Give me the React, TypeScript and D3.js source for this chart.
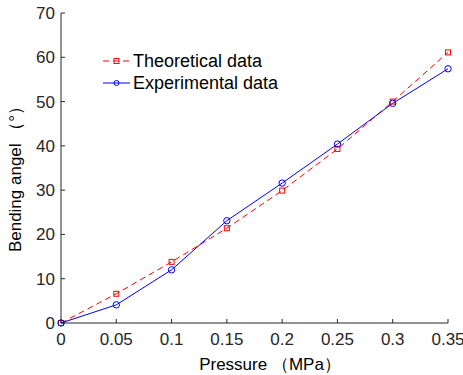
import React from 'react';
import * as d3 from 'd3';

const pressures = [0, 0.05, 0.1, 0.15, 0.2, 0.25, 0.3, 0.35];
const theoretical = [0, 6.6, 13.8, 21.4, 29.9, 39.3, 50.0, 61.1];
const experimental = [0, 4.1, 12.0, 23.1, 31.6, 40.4, 49.6, 57.4];
const xTicks = [0, 0.05, 0.1, 0.15, 0.2, 0.25, 0.3, 0.35];
const yTicks = [0, 10, 20, 30, 40, 50, 60, 70];

const W = 463;
const H = 375;
const margin = { top: 13, right: 15, bottom: 52, left: 61 };

const App: React.FC = () => {
  const x = d3.scaleLinear().domain([0, 0.35]).range([margin.left, W - margin.right]);
  const y = d3.scaleLinear().domain([0, 70]).range([H - margin.bottom, margin.top]);

  const line = d3.line<number>()
    .x((_, i) => x(pressures[i]))
    .y(d => y(d));

  const font = 'Arial, "Liberation Sans", sans-serif';
  const axisColor = '#262626';

  return (
    <svg width={W} height={H} style={{ position: 'absolute', left: 0, top: 0 }}>
      <rect width={W} height={H} fill="#fff" />
      {/* lines */}
      <path d={line(theoretical) ?? ''} fill="none" stroke="#ff0000" strokeWidth={1} strokeDasharray="6,4" />
      <path d={line(experimental) ?? ''} fill="none" stroke="#0000ff" strokeWidth={1} />
      {theoretical.map((v, i) => (
        <rect key={'t' + i} x={x(pressures[i]) - 2.5} y={y(v) - 2.5} width={5} height={5}
          fill="none" stroke="#ff0000" strokeWidth={1} />
      ))}
      {experimental.map((v, i) => (
        <circle key={'e' + i} cx={x(pressures[i])} cy={y(v)} r={3.2}
          fill="none" stroke="#0000ff" strokeWidth={1} />
      ))}

      {/* axes */}
      <line x1={x(0)} x2={x(0.35)} y1={y(0)} y2={y(0)} stroke={axisColor} strokeWidth={1} />
      <line x1={x(0)} x2={x(0)} y1={y(0)} y2={y(70)} stroke={axisColor} strokeWidth={1} />
      {xTicks.map(t => (
        <g key={'xt' + t}>
          <line x1={x(t)} x2={x(t)} y1={y(0)} y2={y(0) - 4} stroke={axisColor} />
          <text x={x(t)} y={y(0) + 22} textAnchor="middle" fontSize={17} fontFamily={font} fill={axisColor}>{t}</text>
        </g>
      ))}
      {yTicks.map(t => (
        <g key={'yt' + t}>
          <line x1={x(0)} x2={x(0) + 4} y1={y(t)} y2={y(t)} stroke={axisColor} />
          <text x={x(0) - 6} y={y(t) + 6} textAnchor="end" fontSize={17} fontFamily={font} fill={axisColor}>{t}</text>
        </g>
      ))}
      <text x={270} y={370} textAnchor="middle" fontSize={17} fontFamily={font} fill="#000">
        Pressure （MPa）
      </text>
      <text transform={`translate(21,175) rotate(-90)`} textAnchor="middle" fontSize={17} fontFamily={font} fill="#000">
        Bending angel （°）
      </text>

      {/* legend */}
      <g>
        <line x1={103} x2={130} y1={61} y2={61} stroke="#ff0000" strokeDasharray="6,4" />
        <rect x={114} y={58.5} width={5} height={5} fill="none" stroke="#ff0000" />
        <text x={133} y={67} fontSize={18} fontFamily={font} fill="#000">Theoretical data</text>
        <line x1={103} x2={130} y1={83} y2={83} stroke="#0000ff" />
        <circle cx={116.5} cy={83} r={2.5} fill="none" stroke="#0000ff" />
        <text x={133} y={89} fontSize={18} fontFamily={font} fill="#000">Experimental data</text>
      </g>
    </svg>
  );
};

export default App;
